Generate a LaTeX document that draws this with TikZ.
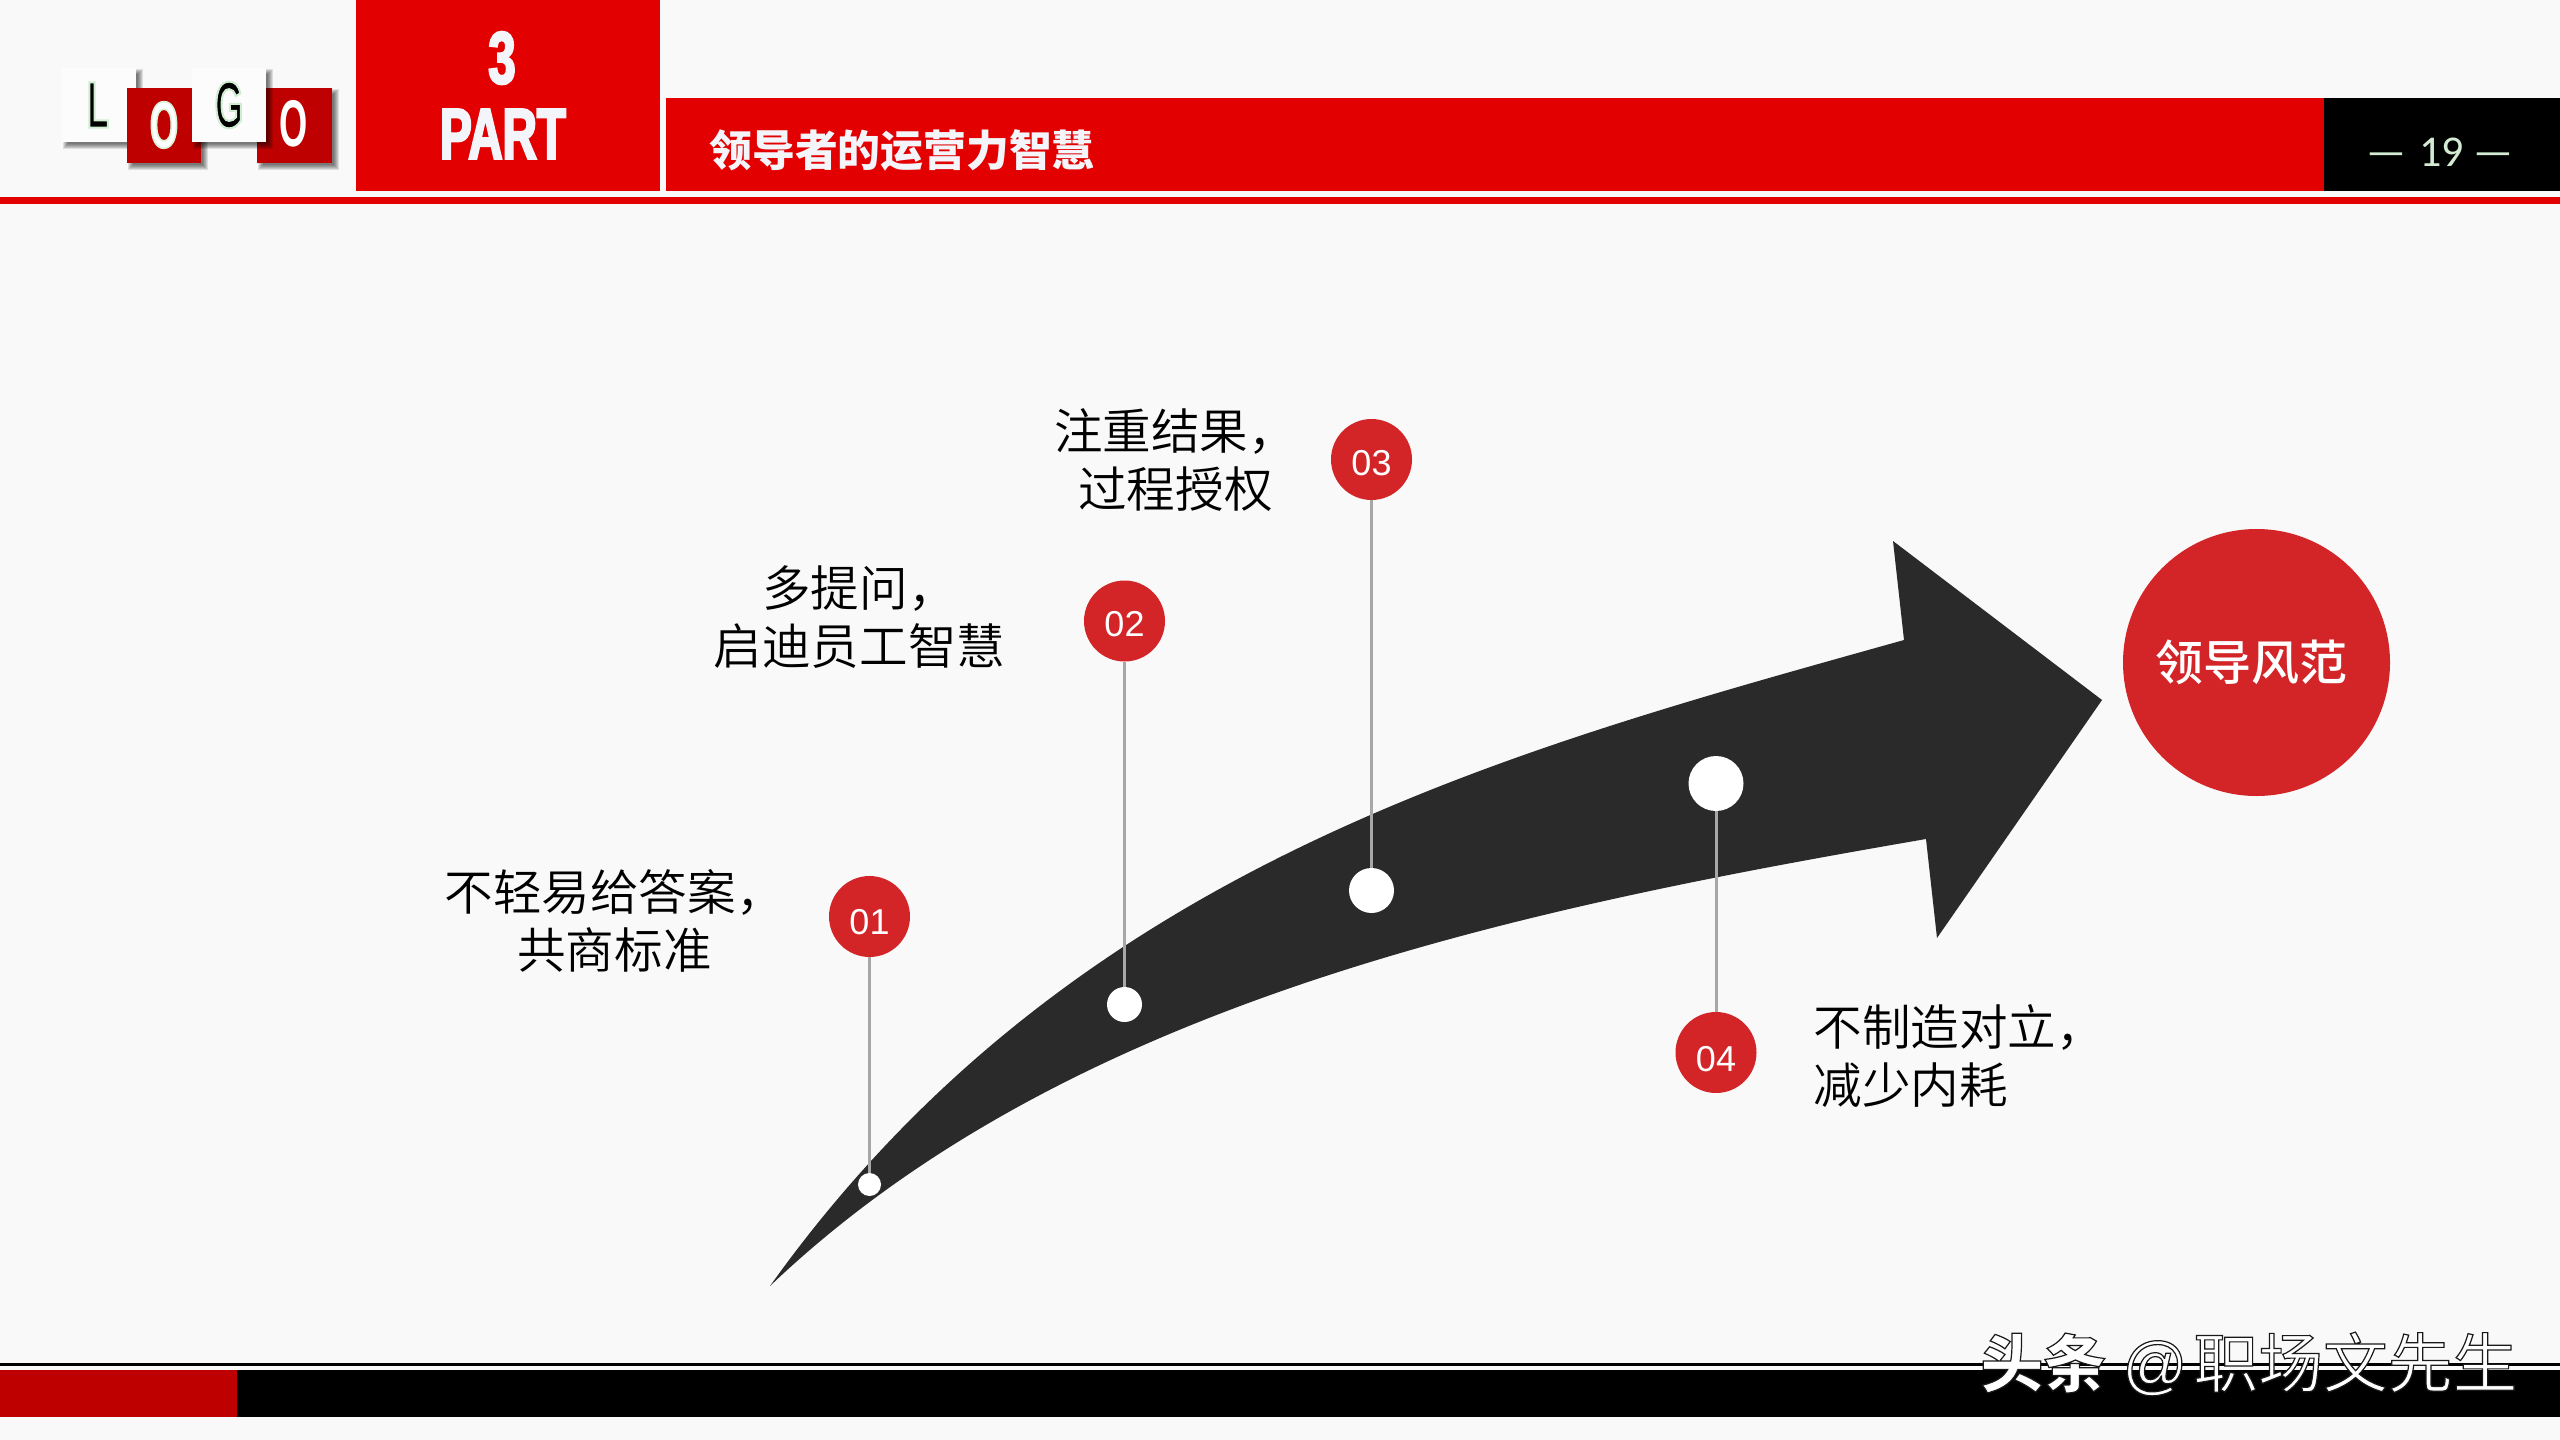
\documentclass[tikz,border=0pt]{standalone}
\usepackage{fontspec}
\usetikzlibrary{shapes.geometric}
\setmainfont{Liberation Sans}
\newfontfamily\cjk{Noto Sans CJK SC}
\newfontfamily\cjklight{Noto Sans CJK SC DemiLight}
\newfontfamily\cjkmedium{Noto Sans CJK SC Medium}
\newfontfamily\condensed[FakeStretch=0.55]{Liberation Sans}
\newfontfamily\heavy[FakeStretch=0.66,BoldFeatures={FakeBold=3}]{Liberation Sans}
\newfontfamily\pagefont{Carlito}
\definecolor{bgc}{HTML}{F9F9F9}
\definecolor{boxw}{HTML}{FCFCFC}
\definecolor{topred}{HTML}{E30000}
\definecolor{darkred}{HTML}{BE0000}
\definecolor{dotred}{HTML}{D32528}
\definecolor{arrowc}{HTML}{2A2A2A}
\definecolor{linec}{HTML}{A6A8A8}
\definecolor{paletxt}{HTML}{F3F5FA}
\definecolor{pagec}{HTML}{D2EBD2}
\newcommand{\halo}[3]{\special{pdf:code 2 Tr #2 w #1 RG}#3\special{pdf:code 0 Tr}}
\newcommand{\softshadow}[4]{%
  \foreach \k in {0,1,...,5}{%
    \fill[black,opacity=0.11] (#1+6-\k,#2+6-\k) rectangle (#3+2+\k,#4+2+\k);}}
\tikzset{
  bodytext/.style={inner sep=0pt,font=\cjklight\fontsize{24.3}{29}\selectfont,text=black},
  numdot/.style={circle,fill=dotred,minimum size=40.5pt,inner sep=0pt,text=white,text depth=0pt,font=\fontsize{18}{18}\selectfont},
  pin/.style={circle,fill=white,inner sep=0pt},
  stem/.style={draw=linec,line width=1.5pt},
  logoletter/.style={inner sep=0pt,font=\condensed\bfseries\fontsize{33}{33}\selectfont}
}
\begin{document}
\begin{tikzpicture}[x=0.5pt,y=-0.5pt]
\fill[bgc] (0,0) rectangle (2560,1440);
\useasboundingbox (0,0) rectangle (2560,1440);
% header
\fill[topred] (356,0) rectangle (660,191);
\fill[topred] (666,98) rectangle (2324,191);
\fill[black] (2324,98) rectangle (2560,191);
\fill[topred] (0,197) rectangle (2560,204);
% logo
\softshadow{62}{68}{136}{142}
\fill[boxw] (62,68) rectangle (136,142);
\softshadow{127}{88}{201}{163}
\fill[darkred] (127,88) rectangle (201,163);
\softshadow{257}{88}{332}{163}
\fill[darkred] (257,88) rectangle (332,163);
\softshadow{192}{68}{266}{142}
\fill[boxw] (192,68) rectangle (266,142);
\node[logoletter,text=black] (l1) at (98,105) {\halo{0.82 0.93 0.82}{1}{L}};
\node[logoletter,text=white] (l2) at (164,125) {\halo{0.85 0.95 0.85}{0.8}{O}};
\node[logoletter,text=black] (l3) at (229,105) {\halo{0.82 0.93 0.82}{1}{G}};
\node[logoletter,text=white] (l4) at (294,124) {O};
% part
\node[inner sep=0pt,text=paletxt,font=\heavy\bfseries\fontsize{37}{37}\selectfont] (partnum) at (502,58) {3};
\node[inner sep=0pt,text=paletxt,font=\heavy\bfseries\fontsize{36}{36}\selectfont] (partword) at (503,134) {PART};
\node[anchor=west,inner sep=0pt,text=paletxt,font=\cjk\bfseries\fontsize{21.4}{21.4}\selectfont] (title) at (709,150) {领导者的运营力智慧};
\node[inner sep=0pt,text=pagec,font=\pagefont\fontsize{22}{22}\selectfont] (page) at (2440,152) {—\kern1.5pt\ 19 —};
% arrow
\fill[arrowc] (770,1286) .. controls (1070,866) and (1504,752) .. (1904,640)
  -- (1893,541) -- (2102,700) -- (1937,938) -- (1926,839)
  .. controls (1526,908) and (1070,1000) .. (770,1286) -- cycle;
% big circle
\node[circle,fill=dotred,minimum size=133.5pt,inner sep=0pt,text=white,font=\cjkmedium\fontsize{24}{24}\selectfont] (goal) at (2256.5,662.5) {\kern-5pt\raisebox{-2pt}{领导风范}};
% pins
\node[pin,minimum size=11.5pt] (d1) at (869.5,1184.5) {};
\node[pin,minimum size=17.5pt] (d2) at (1124.5,1004.5) {};
\node[pin,minimum size=22.5pt] (d3) at (1371.5,890.5) {};
\node[pin,minimum size=27.5pt] (d4) at (1716,783.5) {};
\node[numdot,text height=18.4pt] (c1) at (869.5,916.5) {01};
\node[numdot,text height=15.9pt] (c2) at (1124.5,621) {02};
\node[numdot,text height=16.4pt] (c3) at (1371.5,459.5) {03};
\node[numdot,text height=19.4pt] (c4) at (1716,1052.5) {04};
\draw[stem] (c1) -- (d1);
\draw[stem] (c2) -- (d2);
\draw[stem] (c3) -- (d3);
\draw[stem] (d4) -- (c4);
% labels
\node[bodytext,align=center] (t1) at (614.5,921) {不轻易给答案，\\共商标准};
\node[bodytext,align=center] (t2) at (859.5,617) {多提问，\\启迪员工智慧};
\node[bodytext,align=center] (t3) at (1175.5,460) {注重结果，\\过程授权};
\node[bodytext,align=left,anchor=west] (t4) at (1813,1056) {不制造对立，\\减少内耗};
% footer
\fill[black] (0,1363) rectangle (2560,1366);
\fill[black] (237,1370) rectangle (2560,1417);
\fill[darkred] (0,1370) rectangle (237,1417);
% watermark
\node[anchor=west,inner sep=0pt,text=white] (mark) at (1980,1364) {\halo{0.1 0.1 0.1}{0.6}{{\cjk\bfseries\fontsize{31.5}{31.5}\selectfont 头条}\hspace{8pt}{\fontsize{32}{32}\selectfont @}\hspace{3pt}{\cjk\fontsize{32.4}{32.4}\selectfont 职场文先生}}};
\end{tikzpicture}
\end{document}
